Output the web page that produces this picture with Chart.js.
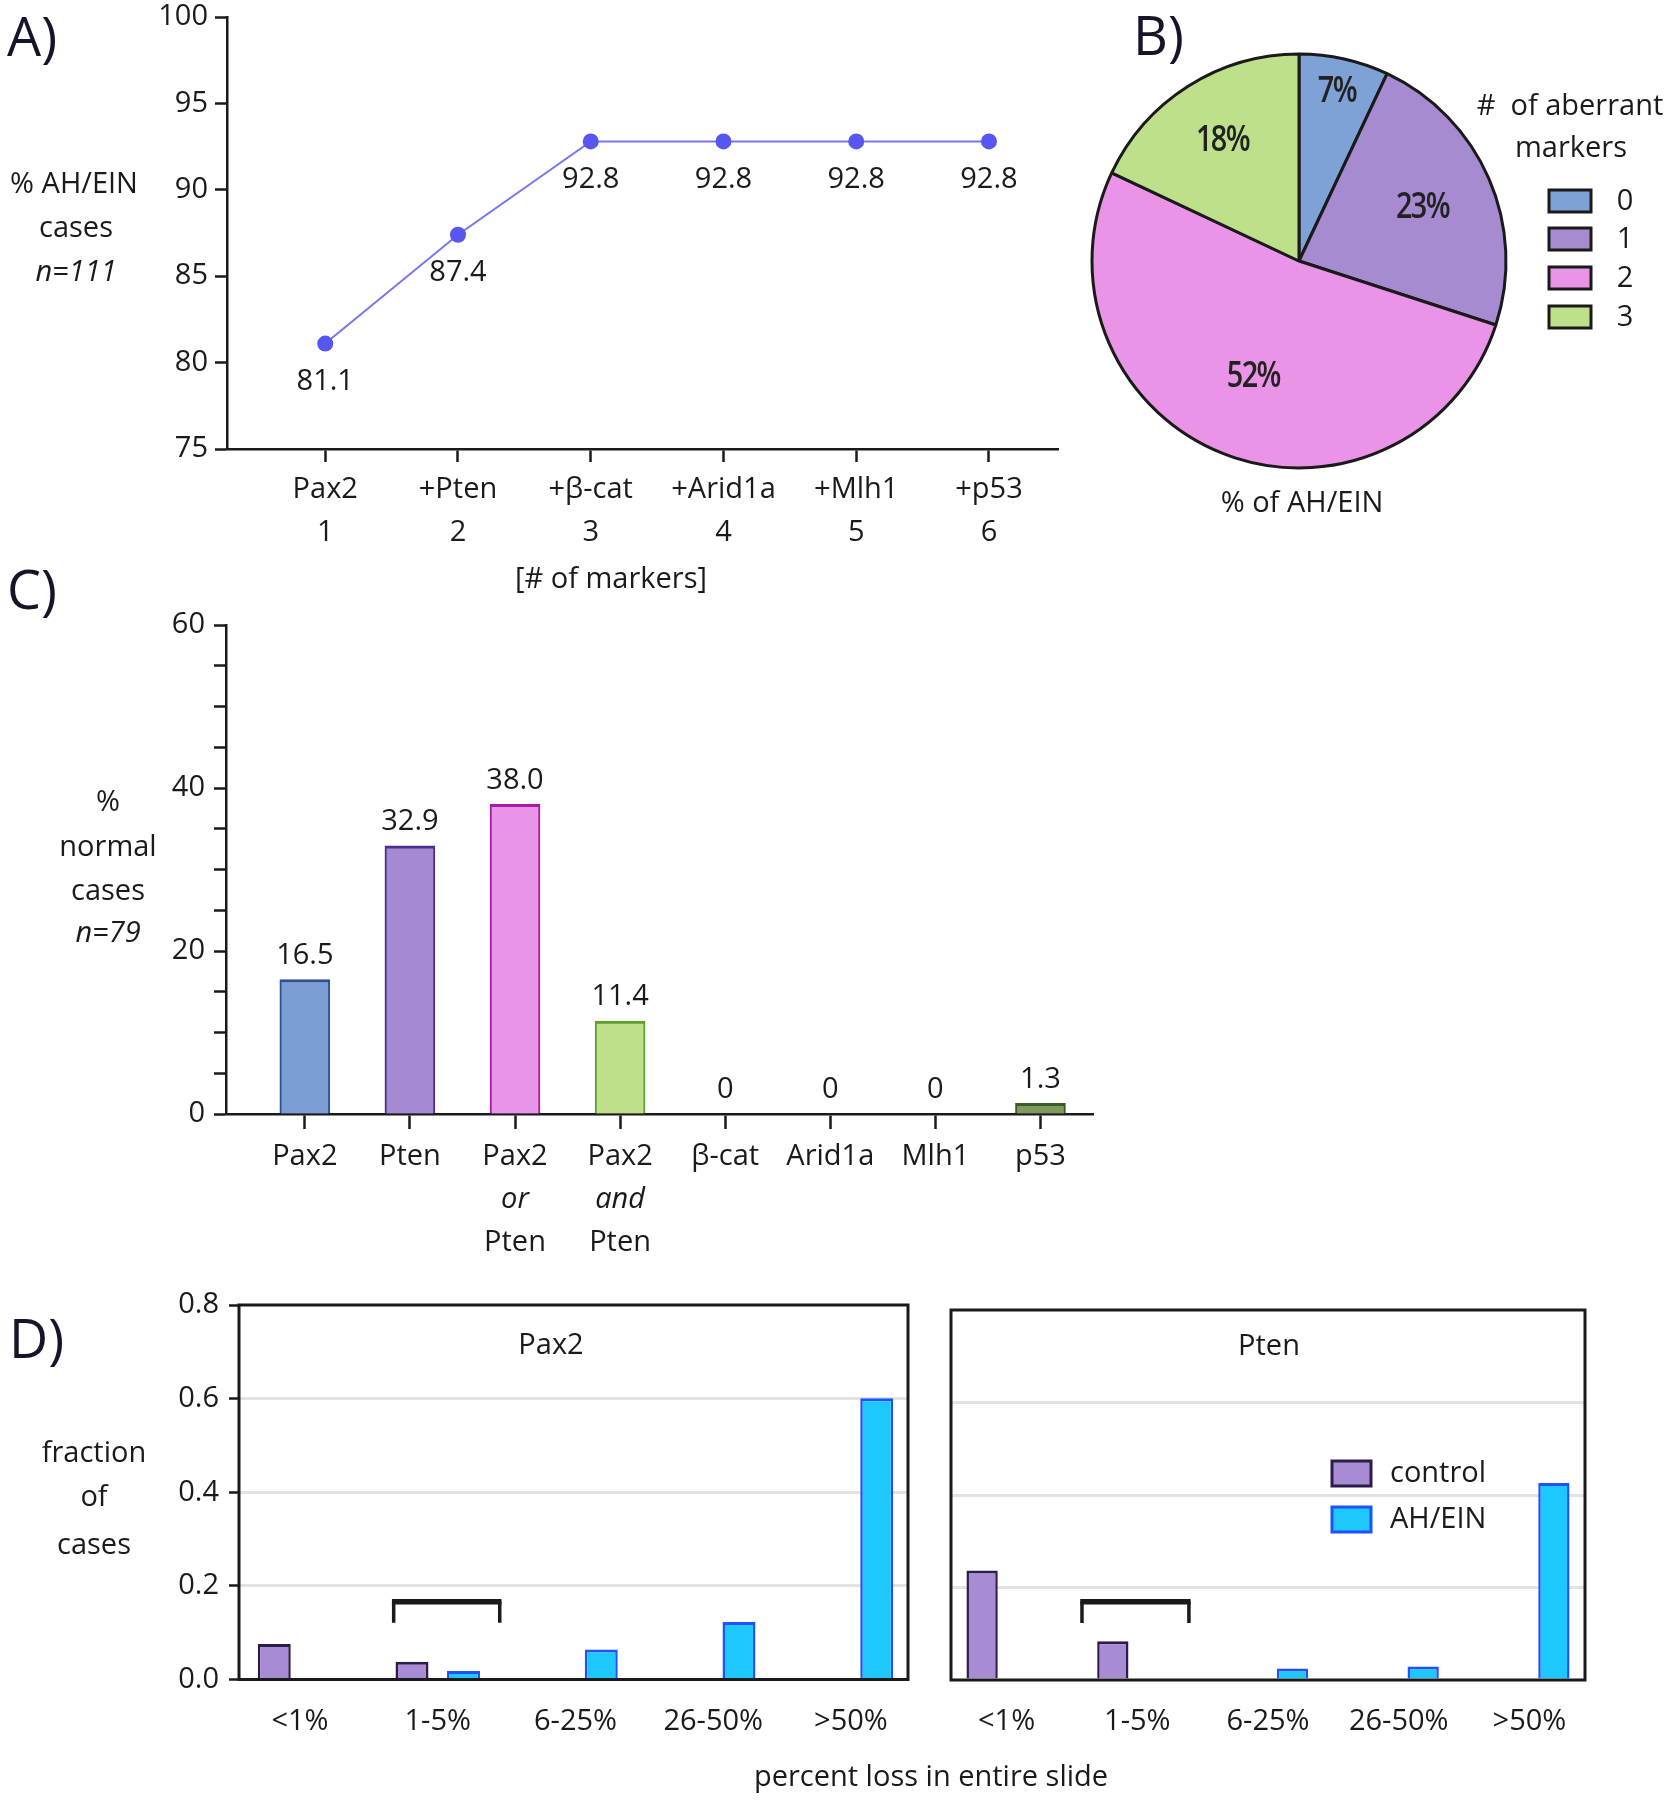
<!DOCTYPE html>
<html><head><meta charset="utf-8">
<script src="https://cdn.jsdelivr.net/npm/chart.js@4.4.1/dist/chart.umd.min.js"></script>
<style>
html,body{margin:0;padding:0;background:#fff;}
#page{position:relative;width:1668px;height:1800px;overflow:hidden;font-family:'Open Sans',sans-serif;color:#1a1a1a;}
canvas{position:absolute;}
.t{position:absolute;transform:translate(-50%,-50%);white-space:pre;font-size:29px;line-height:1;}
.L{position:absolute;transform:translate(0,-50%);font-size:54px;line-height:1;color:#15152a;}
</style></head><body><div id="page"></div>
<script>
// ---------- DATA ----------
const markerSteps = ['Pax2','+Pten','+β-cat','+Arid1a','+Mlh1','+p53'];
const markerCounts = [1,2,3,4,5,6];
const cumulativePct = [81.1,87.4,92.8,92.8,92.8,92.8];
const yTicksA = [75,80,85,90,95,100];

const pieLabels = ['0','1','2','3'];
const piePct = [7,23,52,18];
const pieColors = ['#7ea1d6','#a68bd1','#e994e7','#bfe08b'];

const normalCats = [['Pax2'],['Pten'],['Pax2','or','Pten'],['Pax2','and','Pten'],['β-cat'],['Arid1a'],['Mlh1'],['p53']];
const normalPct = [16.5,32.9,38.0,11.4,0,0,0,1.3];
const yTicksC = [0,5,10,15,20,25,30,35,40,45,50,55,60];
const barFillC = ['#7b9fd5','#a58ad1','#e994e8','#bfe08b','#bfe08b','#bfe08b','#bfe08b','#7e9a5c'];
const barEdgeC = ['#2f4f90','#4e2e8c','#a41ca4','#5f9e2f','#5f9e2f','#5f9e2f','#5f9e2f','#3f5a2a'];

const lossBins = ['<1%','1-5%','6-25%','26-50%','>50%'];
const binIdx = [1,2,3,4,5];
const pax2Control = [0.076,0.038,0,0,0];
const pax2AH = [0,0.018,0.064,0.123,0.601];
const ptenControl = [0.237,0.084,0,0,0];
const ptenAH = [0,0,0.025,0.029,0.426];
const fracTicks = [0,0.2,0.4,0.6,0.8];

// ---------- SETUP ----------
const INK = '#1a1a1a';
const page = document.getElementById('page');
Chart.defaults.font.family = "'Open Sans', sans-serif";
Chart.defaults.font.size = 29;
Chart.defaults.color = INK;
Chart.defaults.animation = false;
Chart.defaults.responsive = false;
Chart.defaults.devicePixelRatio = 1;
Chart.defaults.events = [];
Chart.defaults.plugins.legend.display = false;
Chart.defaults.plugins.tooltip.enabled = false;

function mk(left, top, w, h){
  const c = document.createElement('canvas');
  c.width = w; c.height = h;
  c.style.left = left+'px'; c.style.top = top+'px';
  c.style.width = w+'px'; c.style.height = h+'px';
  page.appendChild(c); return c;
}
function txt(s, x, y, o={}){
  const d = document.createElement('div');
  d.className = o.cls || 't'; d.textContent = s;
  d.style.left = x+'px'; d.style.top = y+'px';
  if (o.italic) d.style.fontStyle = 'italic';
  if (o.size) d.style.fontSize = o.size+'px';
  page.appendChild(d);
}
function valueLabels(id, values, fmt, dy){
  return {id, afterDatasetsDraw(chart){
    const ctx = chart.ctx, meta = chart.getDatasetMeta(0);
    ctx.save(); ctx.font = "29px 'Open Sans'"; ctx.fillStyle = INK;
    ctx.textAlign = 'center'; ctx.textBaseline = 'middle';
    meta.data.forEach((el,i)=>ctx.fillText(fmt(values[i]), el.x, el.y+dy));
    ctx.restore();
  }};
}
const fixedTicks = arr => s => { s.ticks = arr.map(v=>({value:v})); };
const yFit = w => s => { s.width = w; s.paddingTop = 0; s.paddingBottom = 0; };

// ---------- PANEL A ----------
const cA = mk(0,0,1080,600);
new Chart(cA, {
  type:'line',
  data:{datasets:[{data: markerCounts.map((x,i)=>({x, y:cumulativePct[i]})),
    borderColor:'#7676f2', borderWidth:2, pointRadius:8, pointBackgroundColor:'#5757f0',
    pointBorderWidth:0, tension:0, fill:false}]},
  options:{
    layout:{padding:{top:17,right:22,bottom:0,left:0}},
    scales:{
      x:{type:'linear', min:0.26, max:6.52, afterBuildTicks:fixedTicks(markerCounts),
        afterFit:s=>{s.height=151;},
        ticks:{autoSkip:false, maxRotation:0, padding:6.5, font:{size:29, lineHeight:43/29},
          callback:v=>[markerSteps[markerCounts.indexOf(v)], String(v)]},
        grid:{drawOnChartArea:false, tickLength:13, tickWidth:2.5, tickColor:INK},
        border:{color:INK, width:2.5}},
      y:{min:75, max:100, afterBuildTicks:fixedTicks(yTicksA), afterFit:yFit(227),
        ticks:{padding:7},
        grid:{drawOnChartArea:false, tickLength:12, tickWidth:2.5, tickColor:INK},
        border:{color:INK, width:2.5}}
    }
  },
  plugins:[valueLabels('aLab', cumulativePct, v=>v.toFixed(1), 38)]
});

// ---------- PANEL B ----------
const cB = mk(1080,0,588,520);
const pieLabelRadius = [0.84,0.65,0.6,0.69];
new Chart(cB, {
  type:'pie',
  data:{labels:pieLabels, datasets:[{data:piePct, backgroundColor:pieColors, borderColor:INK, borderWidth:3, radius:207}]},
  options:{layout:{padding:{left:10,top:52,right:160,bottom:50}}},
  plugins:[{id:'pieText', afterDatasetsDraw(chart){
    const ctx = chart.ctx, meta = chart.getDatasetMeta(0);
    ctx.save();
    ctx.font = "600 36px 'Open Sans'"; ctx.fillStyle = '#222';
    ctx.textAlign='center'; ctx.textBaseline='middle';
    meta.data.forEach((a,i)=>{
      const m = (a.startAngle+a.endAngle)/2, r = a.outerRadius*pieLabelRadius[i];
      ctx.save();
      ctx.translate(a.x+Math.cos(m)*r, a.y+Math.sin(m)*r);
      ctx.scale(0.8, 1);
      ctx.letterSpacing = '-2px';
      ctx.fillText(piePct[i]+'%', 0, 0);
      ctx.restore();
    });
    // legend
    const tops = [190,228,267,306];
    ctx.font = "29px 'Open Sans'"; ctx.fillStyle = INK;
    pieLabels.forEach((lab,i)=>{
      ctx.fillStyle = pieColors[i]; ctx.fillRect(469, tops[i], 42, 22);
      ctx.strokeStyle = INK; ctx.lineWidth = 3; ctx.strokeRect(469, tops[i], 42, 22);
      ctx.fillStyle = INK; ctx.fillText(lab, 545, tops[i]+12);
    });
    ctx.restore();
  }}]
});

// ---------- PANEL C ----------
const cC = mk(0,600,1100,660);
new Chart(cC, {
  type:'bar',
  data:{datasets:[{data: normalPct.map((y,i)=>({x:i+1, y})),
    backgroundColor:barFillC, borderColor:barEdgeC,
    borderWidth:{top:3,left:2,right:2,bottom:0}, borderSkipped:'start', barThickness:50}]},
  options:{
    layout:{padding:{top:25,right:7,bottom:0,left:0}},
    scales:{
      x:{type:'linear', offset:false, min:0.25, max:8.5,
        afterBuildTicks:fixedTicks(normalCats.map((c,i)=>i+1)), afterFit:s=>{s.height=146;},
        ticks:{autoSkip:false, maxRotation:0, padding:6.5, font:{size:29, lineHeight:43/29},
          callback:v=>normalCats[v-1].map((w,j)=>j===1?'':w)},
        grid:{offset:false, drawOnChartArea:false, tickLength:15, tickWidth:2.5, tickColor:INK},
        border:{color:INK, width:2.5}},
      y:{min:0, max:60, afterBuildTicks:fixedTicks(yTicksC), afterFit:yFit(226),
        ticks:{padding:9, callback:v=>(v%20===0?String(v):'')},
        grid:{drawOnChartArea:false, tickLength:12, tickWidth:2.5, tickColor:INK},
        border:{color:INK, width:2.5}}
    }
  },
  plugins:[valueLabels('cLab', normalPct, v=>(v===0?'0':v.toFixed(1)), -24),
    {id:'italicMid', afterDraw(chart){
      const ctx = chart.ctx, xs = chart.scales.x, y = chart.chartArea.bottom + 15 + 6.5 + 21.5 + 43;
      ctx.save(); ctx.font = "italic 29px 'Open Sans'"; ctx.fillStyle = INK;
      ctx.textAlign='center'; ctx.textBaseline='middle';
      normalCats.forEach((c,i)=>{ if (c.length===3) ctx.fillText(c[1], xs.getPixelForValue(i+1), y); });
      ctx.restore();
    }}]
});

// ---------- PANEL D ----------
const framePlugin = {id:'frame', afterDatasetsDraw(chart){
  const a = chart.chartArea, ctx = chart.ctx;
  ctx.save(); ctx.strokeStyle = INK; ctx.lineWidth = 3;
  ctx.strokeRect(a.left, a.top, a.right-a.left, a.bottom-a.top); ctx.restore();
}};
function bracket(id, x0, x1, yTop, yLeg){
  return {id, afterDatasetsDraw(chart){
    const xs = chart.scales.x, ys = chart.scales.y, ctx = chart.ctx;
    const a = xs.getPixelForValue(x0), b = xs.getPixelForValue(x1);
    const t = ys.getPixelForValue(yTop), u = ys.getPixelForValue(yLeg);
    ctx.save(); ctx.strokeStyle = INK; ctx.lineWidth = 3.5;
    ctx.beginPath(); ctx.moveTo(a,u); ctx.lineTo(a,t); ctx.moveTo(b,t); ctx.lineTo(b,u); ctx.stroke();
    ctx.lineWidth = 5.5; ctx.beginPath(); ctx.moveTo(a-1.75,t); ctx.lineTo(b+1.75,t); ctx.stroke();
    ctx.restore();
  }};
}
const dsStyle = [
  {bg:'#a78bd3', edge:'#2c1c4c'},
  {bg:'#1ec8fe', edge:'#1f52ff'}
];
function lossChart(canvas, ctrl, ah, cfg, extra){
  return new Chart(canvas, {
    type:'bar',
    data:{datasets:[
      {label:'control', data: ctrl.map((y,i)=>({x:binIdx[i], y})), backgroundColor:dsStyle[0].bg, borderColor:dsStyle[0].edge,
        borderWidth:{top:3,left:2.5,right:2.5,bottom:0}, borderSkipped:'start', categoryPercentage:0.748, barPercentage:0.64},
      {label:'AH/EIN', data: ah.map((y,i)=>({x:binIdx[i], y})), backgroundColor:dsStyle[1].bg, borderColor:dsStyle[1].edge,
        borderWidth:{top:3,left:2.5,right:2.5,bottom:0}, borderSkipped:'start', categoryPercentage:0.748, barPercentage:0.64}
    ]},
    options:{
      layout:{padding:cfg.padding},
      scales:{
        x:{type:'linear', offset:false, min:cfg.xmin, max:cfg.xmax, afterBuildTicks:fixedTicks(binIdx),
          afterFit:s=>{s.height=cfg.xh;},
          ticks:{autoSkip:false, maxRotation:0, padding:cfg.xpad, callback:v=>lossBins[v-1]},
          grid:{display:false, drawTicks:false, offset:false}, border:{display:false}},
        y:{min:0, max:0.8, afterBuildTicks:fixedTicks(fracTicks), afterFit:yFit(cfg.yw),
          ticks:{display:cfg.showY, padding:10, callback:v=>v.toFixed(1)},
          grid:{color:c=>(c.tick && c.tick.value>0.01 && c.tick.value<0.79)?'#e3e3e3':'rgba(0,0,0,0)',
            lineWidth:3, drawTicks:cfg.showY, tickLength:10, tickWidth:2.5, tickColor:INK},
          border:{display:false}}
      }
    },
    plugins:[framePlugin].concat(extra)
  });
}
const pax2Bracket = [1.68, 2.45, 0.166, 0.121];
const ptenBracket = [1.577, 2.395, 0.169, 0.123];
lossChart(mk(0,1270,930,530), pax2Control, pax2AH,
  {padding:{top:35,right:22,bottom:0,left:0}, xmin:0.557, xmax:5.414, xh:120.5, xpad:25, yw:239, showY:true},
  [bracket('brP', ...pax2Bracket)]);
lossChart(mk(930,1270,738,530), ptenControl, ptenAH,
  {padding:{top:40,right:83,bottom:0,left:0}, xmin:0.575, xmax:5.425, xh:120, xpad:24.6, yw:21, showY:false},
  [bracket('brT', ...ptenBracket), {id:'dLegend', afterDatasetsDraw(chart){
    const ctx = chart.ctx; const tops = [191,237];
    ctx.save(); ctx.font = "29px 'Open Sans'"; ctx.textAlign='left'; ctx.textBaseline='middle';
    chart.data.datasets.forEach((ds,i)=>{
      ctx.fillStyle = ds.backgroundColor; ctx.fillRect(402, tops[i], 39, 25);
      ctx.strokeStyle = ds.borderColor; ctx.lineWidth = 3; ctx.strokeRect(402, tops[i], 39, 25);
      ctx.fillStyle = INK; ctx.fillText(ds.label, 460, tops[i]+13);
    });
    ctx.restore();
  }}]);

// ---------- TEXT ----------
txt('A)', 7, 35, {cls:'L'});
txt('B)', 1133, 34, {cls:'L'});
txt('C)', 7, 588, {cls:'L'});
txt('D)', 9, 1337, {cls:'L'});
txt('% AH/EIN', 74, 181); txt('cases', 76, 225); txt('n=111', 76, 269, {italic:true});
txt('[# of markers]', 611, 576);
txt('#  of aberrant', 1570, 103); txt('markers', 1571, 145);
txt('% of AH/EIN', 1302, 500);
txt('%', 108, 799); txt('normal', 108, 844); txt('cases', 108, 888); txt('n=79', 108, 930, {italic:true});
txt('fraction', 94, 1450); txt('of', 94, 1494); txt('cases', 94, 1542);
txt('Pax2', 551, 1342); txt('Pten', 1269, 1343);
txt('percent loss in entire slide', 931, 1774);
</script></body></html>
